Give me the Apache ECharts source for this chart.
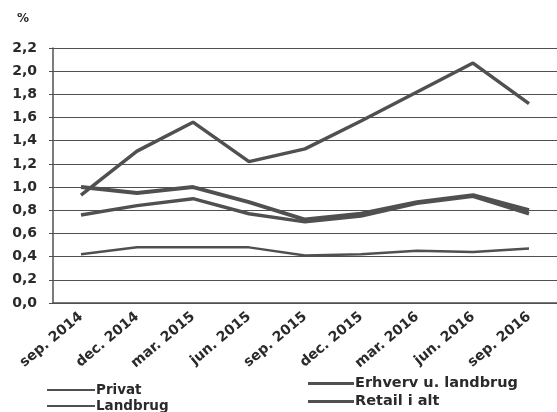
<!DOCTYPE html>
<html>
<head>
<meta charset="utf-8">
<script src="https://cdn.jsdelivr.net/npm/echarts@6/dist/echarts.min.js"></script>
<style>
  html, body { margin: 0; padding: 0; background: #fff; }
  #chart { width: 557px; height: 412px; }
</style>
</head>
<body>
<div id="chart"></div>
<script>
// kvartaler
const categories = ['sep. 2014', 'dec. 2014', 'mar. 2015', 'jun. 2015', 'sep. 2015',
  'dec. 2015', 'mar. 2016', 'jun. 2016', 'sep. 2016'];

// procent
const privat = [0.42, 0.48, 0.48, 0.48, 0.41, 0.42, 0.45, 0.44, 0.47];
const landbrug = [0.93, 1.31, 1.56, 1.22, 1.33, 1.57, 1.82, 2.07, 1.72];
const erhverv = [1.00, 0.95, 1.00, 0.87, 0.72, 0.77, 0.87, 0.93, 0.80];
const retail = [0.76, 0.84, 0.90, 0.77, 0.70, 0.75, 0.86, 0.92, 0.77];

const yTicks = { min: 0, max: 2.2, interval: 0.2 };

const font = 'DejaVu Sans';
const ink = '#2a2a2a';
const lineCol = '#505050';

const chart = echarts.init(document.getElementById('chart'));

function serie(name, data, width) {
  return {
    name: name,
    type: 'line',
    data: data,
    symbol: 'none',
    lineStyle: { color: lineCol, width: width },
    itemStyle: { color: lineCol },
    animation: false
  };
}

// en legende pr. serie, så de kan placeres som i originalen
function legende(name, left, top, w, h, size) {
  return {
    data: [name],
    left: left, top: top,
    icon: 'rect',
    itemWidth: w, itemHeight: h,
    padding: 0,
    textStyle: { fontFamily: font, fontSize: size, fontWeight: 'bold', color: ink, padding: [0, 0, 0, -4] }
  };
}

chart.setOption({
  backgroundColor: '#fff',
  graphic: [{
    type: 'text', left: 17, top: 13,
    style: { text: '%', font: 'bold 12px "DejaVu Sans"', fill: ink }
  }],
  grid: { left: 53, right: 0, top: 48, bottom: 109 },
  legend: [
    legende('Privat', 47, 383, 48, 2, 13.5),
    legende('Landbrug', 47, 399, 48, 2, 13.5),
    legende('Erhverv u. landbrug', 308, 376, 46, 3, 14.5),
    legende('Retail i alt', 308, 394, 46, 3, 14.5)
  ],
  xAxis: {
    type: 'category',
    data: categories,
    boundaryGap: true,
    axisLine: { lineStyle: { color: lineCol, width: 1.5 } },
    axisTick: { show: false },
    axisLabel: {
      rotate: 40, interval: 0, margin: 12,
      fontFamily: font, fontSize: 14, fontWeight: 'bold', color: ink
    }
  },
  yAxis: {
    type: 'value',
    min: yTicks.min, max: yTicks.max, interval: yTicks.interval,
    axisLine: { show: true, lineStyle: { color: lineCol, width: 1.5 } },
    axisTick: { show: true, length: 4, lineStyle: { color: lineCol } },
    splitLine: { lineStyle: { color: lineCol, width: 1.2 } },
    axisLabel: {
      margin: 16,
      fontFamily: font, fontSize: 14, fontWeight: 'bold', color: ink,
      formatter: v => v.toFixed(1).replace('.', ',')
    }
  },
  series: [
    serie('Privat', privat, 2.5),
    serie('Landbrug', landbrug, 3.5),
    serie('Erhverv u. landbrug', erhverv, 4),
    serie('Retail i alt', retail, 3.5)
  ]
});
</script>
</body>
</html>
